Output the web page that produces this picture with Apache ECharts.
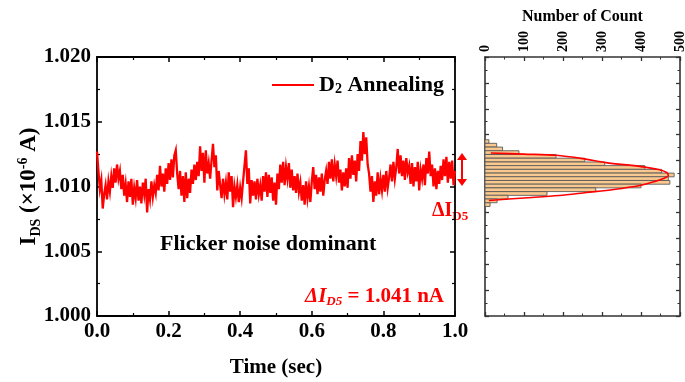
<!DOCTYPE html>
<html>
<head>
<meta charset="utf-8">
<script src="https://cdn.jsdelivr.net/npm/echarts@6/dist/echarts.min.js"></script>
<style>html,body{margin:0;padding:0;background:#fff;}#c{width:685px;height:382px;}</style>
</head>
<body>
<div id="c"></div>
<script>
// ---- data ----
const DT = 0.004; // sampling step (sec)
const currentValues = [
1.0127,1.0112,1.0098,1.0105,1.0083,1.0094,1.0101,1.0090,1.0104,1.0096,
1.0108,1.0099,1.0114,1.0103,1.0117,1.0106,1.0112,1.0098,1.0109,1.0093,
1.0102,1.0088,1.0104,1.0092,1.0106,1.0086,1.0099,1.0091,1.0105,1.0089,
1.0100,1.0087,1.0103,1.0094,1.0106,1.0080,1.0098,1.0090,1.0104,1.0092,
1.0101,1.0095,1.0109,1.0097,1.0116,1.0100,1.0110,1.0096,1.0114,1.0102,
1.0118,1.0105,1.0121,1.0107,1.0124,1.0128,1.0110,1.0098,1.0112,1.0093,
1.0108,1.0088,1.0111,1.0091,1.0106,1.0095,1.0113,1.0102,1.0117,1.0105,
1.0119,1.0108,1.0131,1.0112,1.0126,1.0103,1.0128,1.0110,1.0118,1.0106,
1.0120,1.0133,1.0115,1.0124,1.0097,1.0112,1.0101,1.0091,1.0106,1.0094,
1.0103,1.0090,1.0111,1.0096,1.0108,1.0084,1.0100,1.0092,1.0101,1.0088,
1.0099,1.0091,1.0104,1.0116,1.0128,1.0102,1.0114,1.0087,1.0105,1.0093,
1.0104,1.0090,1.0106,1.0094,1.0101,1.0089,1.0108,1.0096,1.0111,1.0092,
1.0109,1.0095,1.0107,1.0089,1.0103,1.0086,1.0110,1.0098,1.0117,1.0103,
1.0119,1.0101,1.0115,1.0106,1.0118,1.0099,1.0113,1.0097,1.0108,1.0095,
1.0110,1.0096,1.0103,1.0089,1.0101,1.0086,1.0104,1.0091,1.0100,1.0088,
1.0104,1.0115,1.0098,1.0109,1.0094,1.0107,1.0096,1.0110,1.0093,1.0105,
1.0112,1.0102,1.0119,1.0106,1.0121,1.0104,1.0117,1.0108,1.0120,1.0103,
1.0113,1.0097,1.0111,1.0100,1.0114,1.0099,1.0122,1.0106,1.0124,1.0109,
1.0120,1.0104,1.0125,1.0112,1.0135,1.0120,1.0142,1.0125,1.0138,1.0117,
1.0110,1.0096,1.0108,1.0088,1.0104,1.0093,1.0111,1.0094,1.0106,1.0097,
1.0109,1.0096,1.0112,1.0099,1.0107,1.0117,1.0104,1.0119,1.0106,1.0115,
1.0129,1.0110,1.0124,1.0108,1.0120,1.0105,1.0122,1.0111,1.0116,1.0102,
1.0118,1.0100,1.0115,1.0104,1.0119,1.0097,1.0113,1.0106,1.0117,1.0101,
1.0122,1.0110,1.0127,1.0108,1.0117,1.0100,1.0114,1.0098,1.0112,1.0102,
1.0116,1.0105,1.0121,1.0108,1.0123,1.0103,1.0119,1.0106,1.0120,1.0101,1.0112
];
const histBinCenters = [1.01347,1.01319,1.01290,1.01262,1.01233,1.01204,1.01175,1.01147,1.01118,1.01089,1.01061,1.01032,1.01004,1.00975,1.00946,1.00918,1.00889,1.00860];
const histCounts = [10,30,45,87,182,256,307,410,453,485,470,474,400,284,159,59,31,13];
const BIN_W = 0.000286;
const fitValues = [1.012592,1.012500,1.012408,1.012154,1.011846,1.011538,1.011308,1.011077,1.010846,1.010615,1.010385,1.010077,1.009769,1.009538,1.009308,1.009115,1.008923];
const fitCounts = [15,100,182,250,310,400,445,466,470,458,435,397,330,260,190,100,10];
const timeTicks = [0, 1, 0.2];      // min, max, interval
const currentTicks = [1.000, 1.020, 0.005];
const countTicks = [0, 500, 100];

// ---- chart ----
const FONT = "'Liberation Serif','Times New Roman',serif";
const lineData = currentValues.map((v, i) => [i * DT, v]);
const histData = histCounts.map((c, i) => [c, histBinCenters[i]]);
const fitData = fitCounts.map((c, i) => [c, fitValues[i]]);

const axisLine = {show: true, onZero: false, lineStyle: {color: '#000', width: 1.8}};
const tick = {show: true, inside: true, length: 5, lineStyle: {color: '#000', width: 1.5}};
const minor = {show: true, splitNumber: 2, length: 3, lineStyle: {color: '#000', width: 1.2}};
const hAxisLine = {show: true, onZero: false, lineStyle: {color: '#333', width: 1.6}};
const hTick = {show: true, inside: true, length: 4, lineStyle: {color: '#333', width: 1.3}};
const hMinor = {show: true, splitNumber: 2, length: 2.5, lineStyle: {color: '#333', width: 1}};
const labelStyle = {fontFamily: FONT, fontWeight: 'bold', fontSize: 21, color: '#000'};

const chart = echarts.init(document.getElementById('c'), null, {renderer: 'canvas'});
chart.setOption({
  animation: false,
  backgroundColor: '#fff',
  grid: [
    {left: 97, top: 57, width: 358, height: 259, containLabel: false, outerBoundsMode: 'none'},
    {left: 485, top: 57, width: 195, height: 259, containLabel: false, outerBoundsMode: 'none'}
  ],
  legend: {
    data: ['D2 Annealing'],
    left: 267, top: 66,
    icon: 'rect', itemWidth: 42, itemHeight: 2, itemGap: 5,
    formatter: () => '{a|D}{s|2}{a| Annealing}',
    textStyle: {
      rich: {
        a: {fontFamily: FONT, fontWeight: 'bold', fontSize: 22, color: '#000'},
        s: {fontFamily: FONT, fontWeight: 'bold', fontSize: 14, color: '#000', verticalAlign: 'bottom', lineHeight: 16, padding: [11, 0, 0, 0]}
      }
    }
  },
  xAxis: [
    {type: 'value', gridIndex: 0, position: 'bottom', min: timeTicks[0], max: timeTicks[1], interval: timeTicks[2],
     axisLine, axisTick: tick, minorTick: minor, splitLine: {show: false}, minorSplitLine: {show: false},
     axisLabel: Object.assign({margin: 5, formatter: v => v.toFixed(1)}, labelStyle),
     name: 'Time (sec)', nameLocation: 'middle', nameGap: 41,
     nameTextStyle: {fontFamily: FONT, fontWeight: 'bold', fontSize: 21, color: '#000'}},
    {type: 'value', gridIndex: 0, position: 'top', min: timeTicks[0], max: timeTicks[1], interval: timeTicks[2],
     axisLine, axisTick: tick, minorTick: minor, splitLine: {show: false}, axisLabel: {show: false}},
    {type: 'value', gridIndex: 1, position: 'top', min: countTicks[0], max: countTicks[1], interval: countTicks[2],
     axisLine: hAxisLine, axisTick: hTick, minorTick: hMinor, splitLine: {show: false},
     axisLabel: {show: true, rotate: -90, margin: 5, fontFamily: FONT, fontWeight: 'bold', fontSize: 14, color: '#000'},
     name: 'Number of Count', nameLocation: 'middle', nameGap: 32, nameMoveOverlap: false,
     nameTextStyle: {fontFamily: FONT, fontWeight: 'bold', fontSize: 16, color: '#000'}},
    {type: 'value', gridIndex: 1, position: 'bottom', min: countTicks[0], max: countTicks[1], interval: countTicks[2],
     axisLine: hAxisLine, axisTick: hTick, minorTick: hMinor, splitLine: {show: false}, axisLabel: {show: false}}
  ],
  yAxis: [
    {type: 'value', gridIndex: 0, position: 'left', min: currentTicks[0], max: currentTicks[1], interval: currentTicks[2],
     axisLine, axisTick: tick, minorTick: minor, splitLine: {show: false},
     axisLabel: Object.assign({margin: 6, formatter: v => v.toFixed(3)}, labelStyle),
     name: '{b|I}{s|DS}{b| (×10}{p|-6}{b| A)}', nameLocation: 'middle', nameGap: 54, nameMoveOverlap: false,
     nameTextStyle: {
       rich: {
         b: {fontFamily: FONT, fontWeight: 'bold', fontSize: 23, color: '#000'},
         s: {fontFamily: FONT, fontWeight: 'bold', fontSize: 14, color: '#000', verticalAlign: 'bottom', padding: [13, 0, 0, 0]},
         p: {fontFamily: FONT, fontWeight: 'bold', fontSize: 14, color: '#000', verticalAlign: 'top', padding: [0, 0, 11, 0]}
       }
     }},
    {type: 'value', gridIndex: 0, position: 'right', min: currentTicks[0], max: currentTicks[1], interval: currentTicks[2],
     axisLine, axisTick: tick, minorTick: minor, splitLine: {show: false}, axisLabel: {show: false}},
    {type: 'value', gridIndex: 1, position: 'left', min: currentTicks[0], max: currentTicks[1], interval: 0.002,
     axisLine: hAxisLine, axisTick: hTick, minorTick: hMinor, splitLine: {show: false}, axisLabel: {show: false}},
    {type: 'value', gridIndex: 1, position: 'right', min: currentTicks[0], max: currentTicks[1], interval: 0.002,
     axisLine: hAxisLine, axisTick: hTick, minorTick: hMinor, splitLine: {show: false}, axisLabel: {show: false}}
  ],
  series: [
    {name: 'D2 Annealing', type: 'line', xAxisIndex: 0, yAxisIndex: 0, data: lineData,
     showSymbol: false, symbol: 'none', lineStyle: {color: '#ff0000', width: 2.3, join: 'miter'}, itemStyle: {color: '#ff0000'}, z: 3},
    {name: 'hist', type: 'custom', xAxisIndex: 2, yAxisIndex: 2, data: histData,
     encode: {x: 0, y: 1},
     renderItem: function (params, api) {
       const c = api.value(0), m = api.value(1);
       const p0 = api.coord([0, m + BIN_W / 2]);
       const p1 = api.coord([c, m - BIN_W / 2]);
       return {type: 'rect', shape: {x: p0[0], y: p0[1], width: p1[0] - p0[0], height: p1[1] - p0[1]},
               style: {fill: '#f8c88e', stroke: '#5a5a5a', lineWidth: 0.9}};
     }, z: 2},
    {name: 'fit', type: 'line', xAxisIndex: 2, yAxisIndex: 2, data: fitData, smooth: 0.3,
     showSymbol: false, symbol: 'none', lineStyle: {color: '#ff0000', width: 1.6}, z: 4}
  ],
  graphic: [
    {type: 'text', left: 160, top: 233, style: {text: 'Flicker noise dominant', font: "bold 22px 'Liberation Serif', serif", fill: '#000'}},
    {type: 'text', left: 305, top: 286, style: {
      text: '{i|ΔI}{is|D5}{r| = 1.041 nA}',
      rich: {
        i: {font: "italic bold 21px 'Liberation Serif', serif", fill: '#ff0000'},
        is: {font: "italic bold 13px 'Liberation Serif', serif", fill: '#ff0000', verticalAlign: 'bottom', padding: [11, 0, 0, 0]},
        r: {font: "bold 21px 'Liberation Serif', serif", fill: '#ff0000'}
      }}},
    {type: 'text', left: 432, top: 201, style: {
      text: '{a|ΔI}{s|D5}',
      rich: {
        a: {font: "bold 20px 'Liberation Serif', serif", fill: '#ff0000'},
        s: {font: "bold 13px 'Liberation Serif', serif", fill: '#ff0000', verticalAlign: 'bottom', padding: [11, 0, 0, 0]}
      }}},
    {type: 'line', shape: {x1: 462, y1: 158, x2: 462, y2: 181}, style: {stroke: '#ff0000', lineWidth: 2}},
    {type: 'polygon', shape: {points: [[457, 160], [467, 160], [462, 153]]}, style: {fill: '#ff0000'}},
    {type: 'polygon', shape: {points: [[457, 179], [467, 179], [462, 186]]}, style: {fill: '#ff0000'}}
  ]
});
</script>
</body>
</html>
